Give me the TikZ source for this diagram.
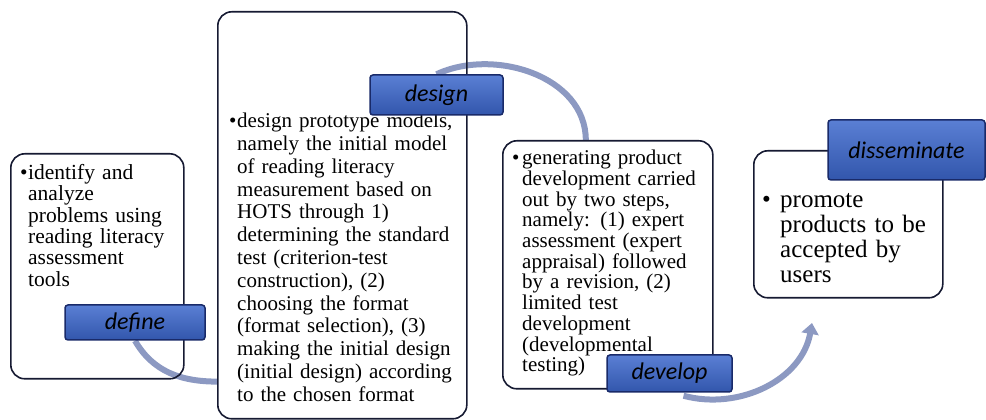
\documentclass[tikz,border=0pt]{standalone}
\usepackage{fontspec}
\setmainfont{Liberation Serif}
\newfontfamily\tagfont{Carlito}
\usetikzlibrary{arrows.meta,positioning,backgrounds}
\definecolor{flowcol}{RGB}{140,153,194}
\definecolor{tagtop}{RGB}{90,127,212}
\definecolor{tagbot}{RGB}{50,86,172}
\definecolor{tagline}{RGB}{25,42,105}
\definecolor{boxline}{RGB}{22,26,50}

\begin{document}
\begin{tikzpicture}[x=1pt,y=1pt,
    stagebox/.style={draw=boxline,line width=1.6pt,rounded corners=14pt,anchor=north west,inner sep=0pt},
    tag/.style={draw=tagline,line width=1.5pt,rounded corners=3pt,top color=tagtop,bottom color=tagbot,
        font=\tagfont\itshape\fontsize{24}{28}\selectfont,text=black,inner sep=0pt},
    body/.style={anchor=north west,inner sep=0pt,text width=#1},
    flow/.style={draw=flowcol,line width=6pt}]
    \useasboundingbox (0,0) rectangle (986,420);

    % the four stages
    \node[stagebox,minimum width=173,minimum height=225] (define_box) at (10,267) {};
    \node[stagebox,minimum width=249,minimum height=407] (design_box) at (217,409) {};
    \node[stagebox,minimum width=210,minimum height=248] (develop_box) at (502,280) {};
    \node[stagebox,minimum width=189,minimum height=147] (dissem_box) at (753,270) {};

    \node[body=165pt,font=\fontsize{21.5}{21.4}\selectfont,below right=11pt and 10pt of define_box.north west] (define_text)
        {\hangindent=8pt\hangafter=1\noindent\makebox[8pt][l]{•}identify and\newline analyze\newline problems using\newline
        reading literacy\newline assessment\newline tools\par};
    \node[body=245pt,font=\fontsize{21}{22.8}\selectfont,below right=102pt and 12pt of design_box.north west] (design_text)
        {\hangindent=8pt\hangafter=1\noindent\makebox[8pt][l]{•}design prototype models,\newline namely the initial model\newline
        of reading literacy\newline measurement based on\newline HOTS through 1)\newline determining the standard\newline
        test (criterion-test\newline construction), (2)\newline choosing the format\newline (format selection), (3)\newline
        making the initial design\newline (initial design) according\newline to the chosen format\par};
    \node[body=205pt,font=\fontsize{21}{20.7}\selectfont,below right=10pt and 10pt of develop_box.north west] (develop_text)
        {\hangindent=10pt\hangafter=1\noindent\makebox[10pt][l]{•}generating product\newline development carried\newline
        out by two steps,\newline namely: (1) expert\newline assessment (expert\newline appraisal) followed\newline
        by a revision, (2)\newline limited test\newline development\newline (developmental\newline testing)\par};
    \node[body=185pt,font=\fontsize{25}{25}\selectfont,below right=43pt and 9pt of dissem_box.north west] (dissem_text)
        {\hangindent=18pt\hangafter=1\noindent\makebox[18pt][l]{•}promote\newline products to be\newline accepted by\newline users\par};

    \node[tag,minimum width=140,minimum height=35] (define_tag) at (135,97.5) {define};
    \node[tag,minimum width=133,minimum height=40] (design_tag) at (436.5,325) {design};
    \node[tag,minimum width=125,minimum height=37] (develop_tag) at (669.5,46.5) {develop};
    \node[tag,minimum width=157,minimum height=60] (dissem_tag) at (906.5,270) {disseminate};

    % curved flow between the stages
    \coordinate (dissem_in) at (812,97);
    \begin{scope}[on background layer]
        \draw[flow] (define_tag.south) to[out=-60,in=180] ([yshift=38pt]design_box.south west);
        \draw[flow] (design_tag.north) to[out=25,in=90] ([xshift=-22pt]develop_box.north);
        \draw[flow,-{Triangle[width=17pt,length=11pt]}] ([xshift=14pt,yshift=-3pt]develop_tag.south)
            to[out=-15,in=-100] (dissem_in);
    \end{scope}
\end{tikzpicture}
\end{document}
